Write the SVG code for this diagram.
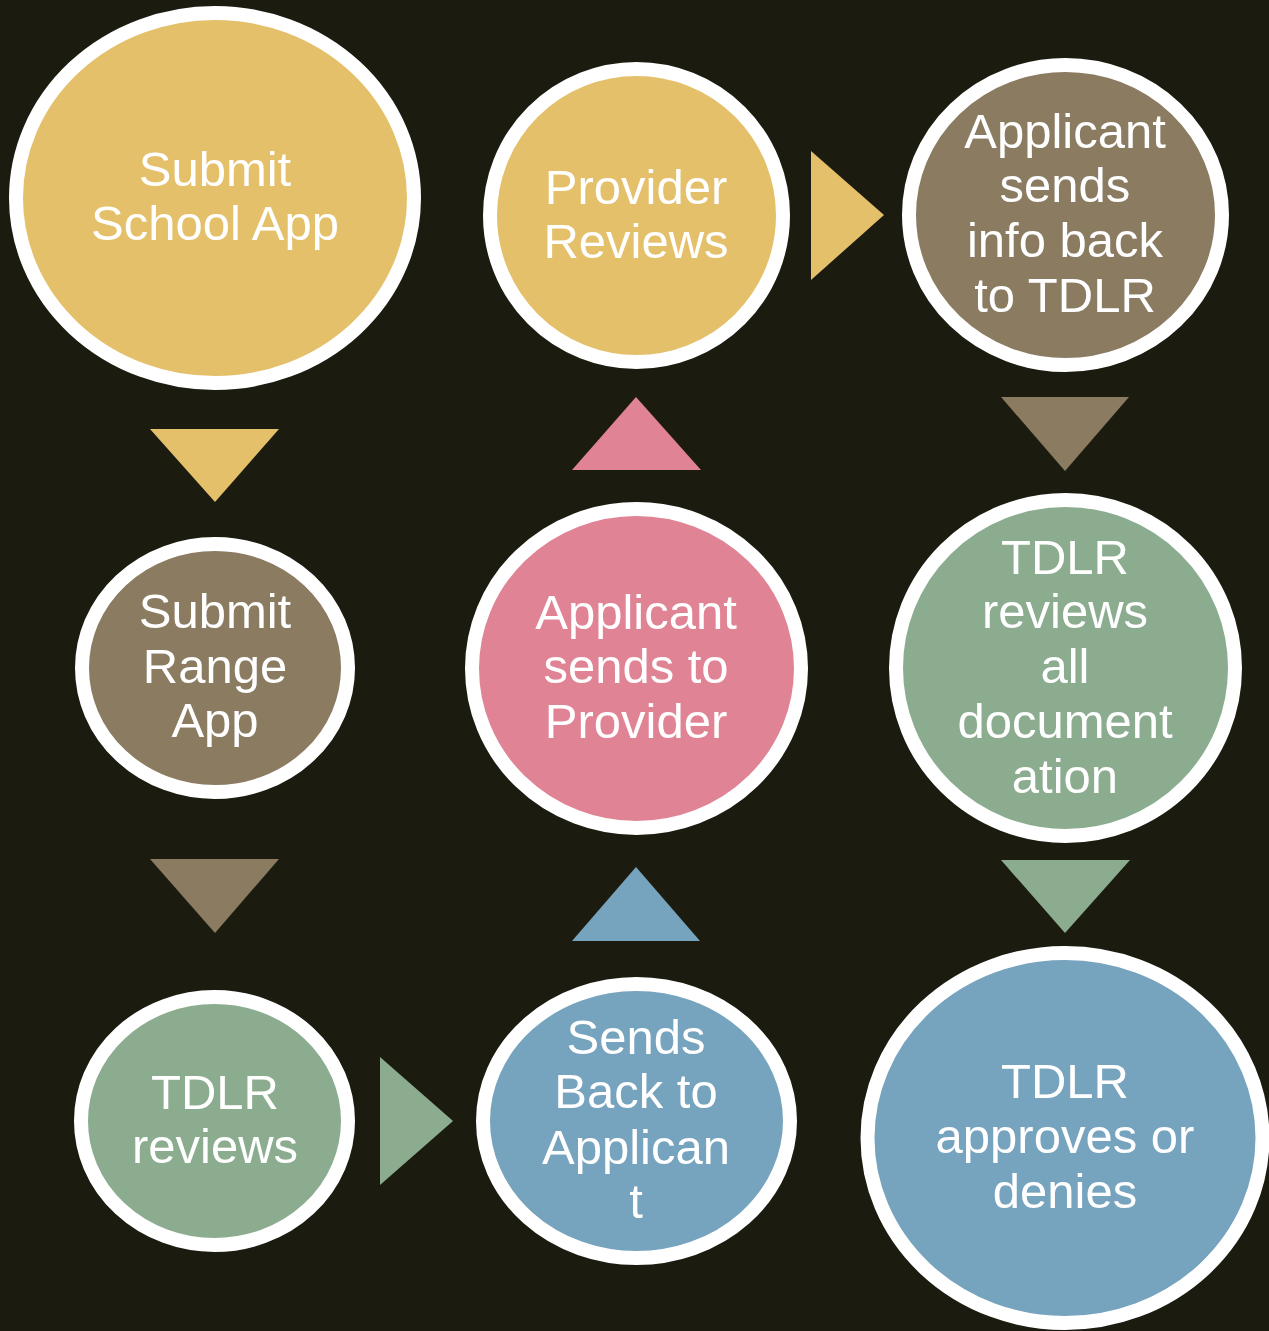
<svg xmlns="http://www.w3.org/2000/svg" width="1269" height="1331" viewBox="0 0 1269 1331">
<style>
.n{stroke:#FFFFFF;stroke-width:14}
.t{font-family:"Liberation Sans",Arial,sans-serif;font-size:49px;fill:#FFFFFF;text-anchor:middle}
.gold{fill:#E4C06B}
.brown{fill:#8A7B61}
.pink{fill:#E08394}
.green{fill:#8CAC8F}
.blue{fill:#76A3BD}
</style>
<rect x="0" y="0" width="1269" height="1331" fill="#1B1B10"/>
<g id="connectors">
<polygon class="gold" points="150,429 279,429 215,502"/>
<polygon class="brown" points="150,859 279,859 215,933"/>
<polygon class="green" points="380,1057 453,1121 380,1185"/>
<polygon class="blue" points="572,941 700,941 636,867"/>
<polygon class="pink" points="572,470 701,470 636,397"/>
<polygon class="gold" points="811,151 884,215 811,280"/>
<polygon class="brown" points="1001,397 1129,397 1065,471"/>
<polygon class="green" points="1001,860 1130,860 1065,933"/>
</g>
<g id="node-submit-school-app">
<ellipse class="n gold" cx="215" cy="198" rx="199" ry="185"/>
<text class="t"><tspan x="215" y="186">Submit</tspan><tspan x="215" y="240">School App</tspan></text>
</g>
<g id="node-submit-range-app">
<ellipse class="n brown" cx="215" cy="668" rx="133" ry="124"/>
<text class="t"><tspan x="215" y="628">Submit</tspan><tspan x="215" y="683">Range</tspan><tspan x="215" y="737">App</tspan></text>
</g>
<g id="node-tdlr-reviews">
<ellipse class="n green" cx="214.5" cy="1121" rx="133.5" ry="124"/>
<text class="t"><tspan x="215" y="1109">TDLR</tspan><tspan x="215" y="1163">reviews</tspan></text>
</g>
<g id="node-sends-back">
<ellipse class="n blue" cx="636.5" cy="1121" rx="153.5" ry="137"/>
<text class="t"><tspan x="636" y="1054">Sends</tspan><tspan x="636" y="1108">Back to</tspan><tspan x="636" y="1164">Applican</tspan><tspan x="636" y="1218">t</tspan></text>
</g>
<g id="node-applicant-sends-to-provider">
<ellipse class="n pink" cx="636.5" cy="668.5" rx="164.5" ry="159.5"/>
<text class="t"><tspan x="636" y="629">Applicant</tspan><tspan x="636" y="683">sends to</tspan><tspan x="636" y="738">Provider</tspan></text>
</g>
<g id="node-provider-reviews">
<ellipse class="n gold" cx="636.5" cy="215.5" rx="146.5" ry="146.5"/>
<text class="t"><tspan x="636" y="204">Provider</tspan><tspan x="636" y="258">Reviews</tspan></text>
</g>
<g id="node-applicant-sends-info">
<ellipse class="n brown" cx="1065.5" cy="215" rx="156.5" ry="150"/>
<text class="t"><tspan x="1065" y="148">Applicant</tspan><tspan x="1065" y="202">sends</tspan><tspan x="1065" y="257">info back</tspan><tspan x="1065" y="312">to TDLR</tspan></text>
</g>
<g id="node-tdlr-reviews-all">
<ellipse class="n green" cx="1065.5" cy="668" rx="169.5" ry="168"/>
<text class="t"><tspan x="1065" y="574">TDLR</tspan><tspan x="1065" y="628">reviews</tspan><tspan x="1065" y="683">all</tspan><tspan x="1065" y="738">document</tspan><tspan x="1065" y="793">ation</tspan></text>
</g>
<g id="node-tdlr-approves">
<ellipse class="n blue" cx="1065" cy="1138" rx="197.5" ry="185"/>
<text class="t"><tspan x="1065" y="1098">TDLR</tspan><tspan x="1065" y="1153">approves or</tspan><tspan x="1065" y="1208">denies</tspan></text>
</g>
</svg>
